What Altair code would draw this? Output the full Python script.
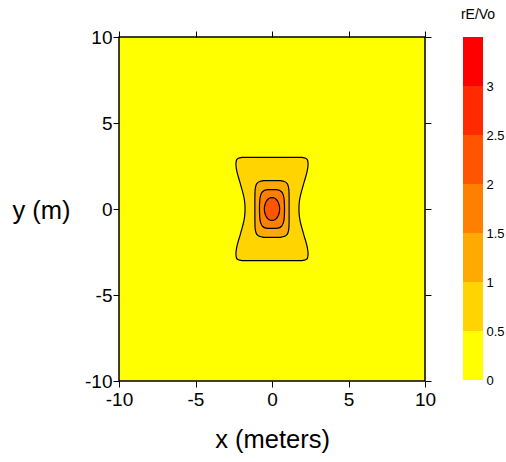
import altair as alt
import pandas as pd

# ---- axes ----
x_domain = [-10, 10]
y_domain = [-10, 10]
tick_values = [-10, -5, 0, 5, 10]

# ---- contour outlines: y position and half-width ----
c05_y = [3.0, 2.95, 2.85, 2.6, 2.2, 1.5, 0.5, 0.0, -0.5, -1.5, -2.2, -2.6, -2.85, -2.95, -3.0]
c05_hw = [1.95, 2.2, 2.32, 2.36, 2.3, 2.08, 1.8, 1.76, 1.8, 2.08, 2.3, 2.36, 2.32, 2.2, 1.95]

c10_y = [1.65, 1.6, 1.5, 1.3, 1.0, 0.5, 0.0, -0.5, -1.0, -1.3, -1.5, -1.6, -1.65]
c10_hw = [0.55, 0.8, 0.97, 1.07, 1.11, 1.12, 1.12, 1.12, 1.11, 1.07, 0.97, 0.8, 0.55]

c15_y = [1.13, 1.1, 1.0, 0.8, 0.5, 0.0, -0.5, -0.8, -1.0, -1.1, -1.13]
c15_hw = [0.25, 0.45, 0.62, 0.74, 0.8, 0.82, 0.8, 0.74, 0.62, 0.45, 0.25]

c20_y = [0.66, 0.64, 0.58, 0.45, 0.25, 0.0, -0.25, -0.45, -0.58, -0.64, -0.66]
c20_hw = [0.08, 0.14, 0.25, 0.37, 0.46, 0.5, 0.46, 0.37, 0.25, 0.14, 0.08]

# ---- colour levels (rE/Vo) ----
level_lo = [0, 0.5, 1, 1.5, 2, 2.5, 3]
level_hi = [0.5, 1, 1.5, 2, 2.5, 3, 3.5]
level_colors = ["#FFFF00", "#FFD400", "#FFAA00", "#FF7F00", "#FF5500", "#FF2A00", "#FF0000"]

FONT = "Liberation Sans"

x_scale = alt.Scale(domain=x_domain, nice=False, zero=False)
y_scale = alt.Scale(domain=y_domain, nice=False, zero=False)

bottom_axis = alt.Axis(orient="bottom", values=tick_values, title="x (meters)",
                       titleFontSize=25.5, titleFontWeight="normal", titlePadding=18,
                       labelFontSize=19, labelPadding=3, tickSize=6, grid=False,
                       domain=False, labelFlush=False, labelExpr="datum.value + ''")
left_axis = alt.Axis(orient="left", values=tick_values, title="y (m)", titleAngle=0,
                     titleX=-78, titleY=173, titleAlign="center", titleBaseline="middle",
                     titleFontSize=25.5, titleFontWeight="normal",
                     labelFontSize=19, labelPadding=1, tickSize=6, grid=False, domain=False,
                     labelExpr="datum.value + ''")
top_axis = alt.Axis(orient="top", values=tick_values, labels=False, title=None,
                    tickSize=6, grid=False, domain=False)
right_axis = alt.Axis(orient="right", values=tick_values, labels=False, title=None,
                      tickSize=6, grid=False, domain=False)


def contour(ys, hws, color, xaxis=None, yaxis=None):
    df = pd.DataFrame({"y": ys, "xl": [-h for h in hws], "xr": hws})
    return alt.Chart(df).mark_area(
        orient="horizontal", interpolate="monotone", color=color,
        stroke="black", strokeWidth=1.2
    ).encode(
        y=alt.Y("y:Q", scale=y_scale, axis=yaxis),
        x=alt.X("xl:Q", scale=x_scale, axis=xaxis),
        x2="xr:Q",
    )


l05 = contour(c05_y, c05_hw, level_colors[1], bottom_axis, left_axis)
l10 = contour(c10_y, c10_hw, level_colors[2])
l15 = contour(c15_y, c15_hw, level_colors[3])
l20 = contour(c20_y, c20_hw, level_colors[4])

frame_axes = alt.Chart(pd.DataFrame({"y": c05_y, "xl": [-h for h in c05_hw]})).mark_point(
    opacity=0
).encode(
    x=alt.X("xl:Q", scale=x_scale, axis=top_axis),
    y=alt.Y("y:Q", scale=y_scale, axis=right_axis),
)

main = alt.layer(l05, l10, l15, l20, frame_axes).resolve_axis(
    x="independent", y="independent"
).properties(
    width=306, height=344,
    view=alt.ViewBackground(fill=level_colors[0], stroke="black", strokeWidth=1.5),
)

leg_df = pd.DataFrame({"lo": level_lo, "hi": level_hi, "c": level_colors})
legend = alt.Chart(leg_df).mark_rect().encode(
    y=alt.Y("lo:Q", scale=alt.Scale(domain=[0, 3.5], nice=False, zero=False),
            axis=alt.Axis(orient="right", values=level_lo, ticks=False, domain=False,
                          grid=False, labelFontSize=13, labelPadding=3, title=None,
                          labelFlush=False, format="~g")),
    y2="hi:Q",
    x=alt.value(0),
    x2=alt.value(20),
    color=alt.Color("c:N", scale=None),
).properties(
    width=20, height=343,
    title=alt.TitleParams("rE/Vo", fontSize=14, fontWeight="normal", offset=15,
                          anchor="middle", dx=5),
    view=alt.ViewBackground(stroke="transparent"),
)

chart = alt.hconcat(main, legend, spacing=38, bounds="flush").properties(
    padding={"left": 11, "top": 7, "right": 0, "bottom": 0}
).configure_axis(
    labelFont=FONT, titleFont=FONT, labelColor="black", titleColor="black",
    tickColor="black", tickWidth=1
).configure_title(font=FONT, color="black")

chart.save("out.html", embed_options={"renderer": "svg", "actions": False})
